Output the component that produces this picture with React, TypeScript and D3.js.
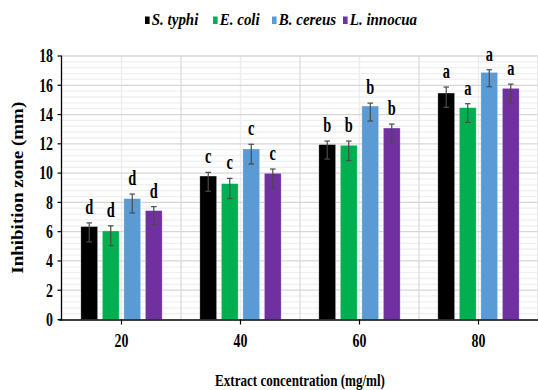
import React from "react";
import * as d3 from "d3";

const categories = ["20", "40", "60", "80"];
const seriesNames = ["S. typhi", "E. coli", "B. cereus", "L. innocua"];
const seriesColors = ["#000000", "#00B050", "#5B9BD5", "#7030A0"];
// values[series][category]
const sTyphi = [6.35, 9.8, 11.95, 15.47];
const eColi = [6.05, 9.28, 11.9, 14.47];
const bCereus = [8.26, 11.65, 14.58, 16.88];
const lInnocua = [7.44, 9.99, 13.08, 15.79];
const values = [sTyphi, eColi, bCereus, lInnocua];
const errUp = [
  [0.25, 0.25, 0.24, 0.41],
  [0.35, 0.36, 0.29, 0.27],
  [0.31, 0.32, 0.2, 0.18],
  [0.27, 0.29, 0.27, 0.29],
];
const errDown = [
  [1.05, 1.04, 0.99, 0.98],
  [1.0, 1.02, 1.05, 1.0],
  [0.98, 1.03, 1.02, 0.98],
  [0.96, 1.03, 1.0, 1.0],
];
const letters = ["d", "c", "b", "a"];
const yTicks = [0, 2, 4, 6, 8, 10, 12, 14, 16, 18];

const W = 538;
const H = 390;
const plotLeft = 62;
const plotRight = 538;
const plotTop = 56;
const plotBottom = 319.5;
const SX = 0.77;
const FONT = "'Liberation Serif', 'Times New Roman', serif";

function CText({ x, y, anchor = "middle", size = 18, italic = false, sx = SX, children }: any) {
  return (
    <g transform={`translate(${x},${y}) scale(${sx},1)`}>
      <text
        textAnchor={anchor}
        fontFamily={FONT}
        fontWeight="bold"
        fontStyle={italic ? "italic" : "normal"}
        fontSize={size}
        fill="#000"
      >
        {children}
      </text>
    </g>
  );
}

export default function App() {
  const x = d3.scaleBand<string>().domain(categories).range([plotLeft, plotRight]).padding(0);
  const y = d3.scaleLinear().domain([0, 18]).range([plotBottom, plotTop]);
  const groupW = 81.3;
  const inner = d3
    .scaleBand<number>()
    .domain(d3.range(seriesNames.length))
    .range([-groupW / 2, groupW / 2])
    .paddingInner(0.22)
    .paddingOuter(0);
  const bw = inner.bandwidth();

  const minorTicks = d3.range(0, 18.001, 0.4).filter((v) => Math.abs(v / 2 - Math.round(v / 2)) > 0.01);
  const bandEdges = categories.map((c) => (x(c) as number) + x.bandwidth());
  const centers = categories.map((c) => (x(c) as number) + x.bandwidth() / 2);

  const legendX = [145, 213, 272, 343];

  return (
    <svg width={W} height={H} style={{ position: "absolute", left: 0, top: 0, background: "#fff" }}>
      <rect x={0} y={0} width={W} height={H} fill="#fff" />
      {/* minor horizontal grid */}
      {minorTicks.map((t, i) => (
        <line key={"mh" + i} x1={plotLeft} x2={plotRight} y1={y(t)} y2={y(t)} stroke="#efefef" strokeWidth={1.3} />
      ))}
      {/* vertical grid */}
      {centers.map((c, i) => (
        <line key={"vc" + i} x1={c} x2={c} y1={plotTop} y2={plotBottom} stroke="#ececec" strokeWidth={1.3} />
      ))}
      {bandEdges.map((c, i) => (
        <line key={"ve" + i} x1={c} x2={c} y1={plotTop} y2={plotBottom} stroke="#dcdcdc" strokeWidth={1.3} />
      ))}
      {/* major horizontal grid */}
      {yTicks.slice(1).map((t) => (
        <line key={"mj" + t} x1={plotLeft} x2={plotRight} y1={y(t)} y2={y(t)} stroke="#d6d6d6" strokeWidth={1.3} />
      ))}

      {/* bars */}
      {categories.map((c, ci) =>
        seriesNames.map((s, si) => {
          const cx = (x(c) as number) + x.bandwidth() / 2 + (inner(si) as number);
          const v = values[si][ci];
          return (
            <rect
              key={c + s}
              x={cx}
              y={y(v)}
              width={bw}
              height={plotBottom - y(v)}
              fill={seriesColors[si]}
              stroke="#ffffff"
              strokeOpacity={0.5}
              strokeWidth={0.6}
            />
          );
        })
      )}
      {/* error bars and letters */}
      {categories.map((c, ci) =>
        seriesNames.map((s, si) => {
          const cx = (x(c) as number) + x.bandwidth() / 2 + (inner(si) as number) + bw / 2;
          const v = values[si][ci];
          const top = y(v + errUp[si][ci]);
          const bot = y(v - errDown[si][ci]);
          return (
            <g key={"e" + c + s}>
              <line x1={cx} x2={cx} y1={top} y2={bot} stroke="#4a4a4a" strokeWidth={1.2} />
              <line x1={cx - 2.8} x2={cx + 2.8} y1={top} y2={top} stroke="#4a4a4a" strokeWidth={1.2} />
              <line x1={cx - 2.8} x2={cx + 2.8} y1={bot} y2={bot} stroke="#4a4a4a" strokeWidth={1.2} />
              <CText x={cx} y={top - 9} size={20} sx={0.72}>
                {letters[ci]}
              </CText>
            </g>
          );
        })
      )}

      {/* y axis */}
      <line x1={plotLeft - 0.5} x2={plotLeft - 0.5} y1={plotTop} y2={plotBottom + 1} stroke="#000" strokeWidth={1.3} />
      {yTicks.map((t) => (
        <g key={"yt" + t}>
          <line x1={plotLeft - 4.5} x2={plotLeft} y1={y(t)} y2={y(t)} stroke="#000" strokeWidth={1.2} />
          <CText x={53} y={y(t) + 6.3} anchor="end" size={18}>
            {t}
          </CText>
        </g>
      ))}
      {/* x axis */}
      <line x1={58.5} x2={plotRight} y1={plotBottom + 0.5} y2={plotBottom + 0.5} stroke="#000" strokeWidth={1.6} />
      {centers.map((c, i) => (
        <g key={"xt" + i}>
          <line x1={c} x2={c} y1={plotBottom} y2={plotBottom + 5} stroke="#000" strokeWidth={1.2} />
          <CText x={c} y={347} size={18}>
            {categories[i]}
          </CText>
        </g>
      ))}
      <CText x={(plotLeft + plotRight) / 2} y={386} size={17}>
        Extract concentration (mg/ml)
      </CText>
      <g transform={`translate(23,${(plotTop + plotBottom) / 2}) rotate(-90) scale(1,0.85)`}>
        <text textAnchor="middle" fontFamily={FONT} fontWeight="bold" fontSize={19} fill="#000">
          Inhibition zone (mm)
        </text>
      </g>

      {/* legend */}
      {seriesNames.map((s, i) => (
        <g key={"lg" + s}>
          <rect x={legendX[i]} y={16.5} width={4.6} height={7.5} fill={seriesColors[i]} />
          <CText x={legendX[i] + 6.8} y={25} anchor="start" size={17} sx={0.88} italic>
            {s}
          </CText>
        </g>
      ))}
    </svg>
  );
}
